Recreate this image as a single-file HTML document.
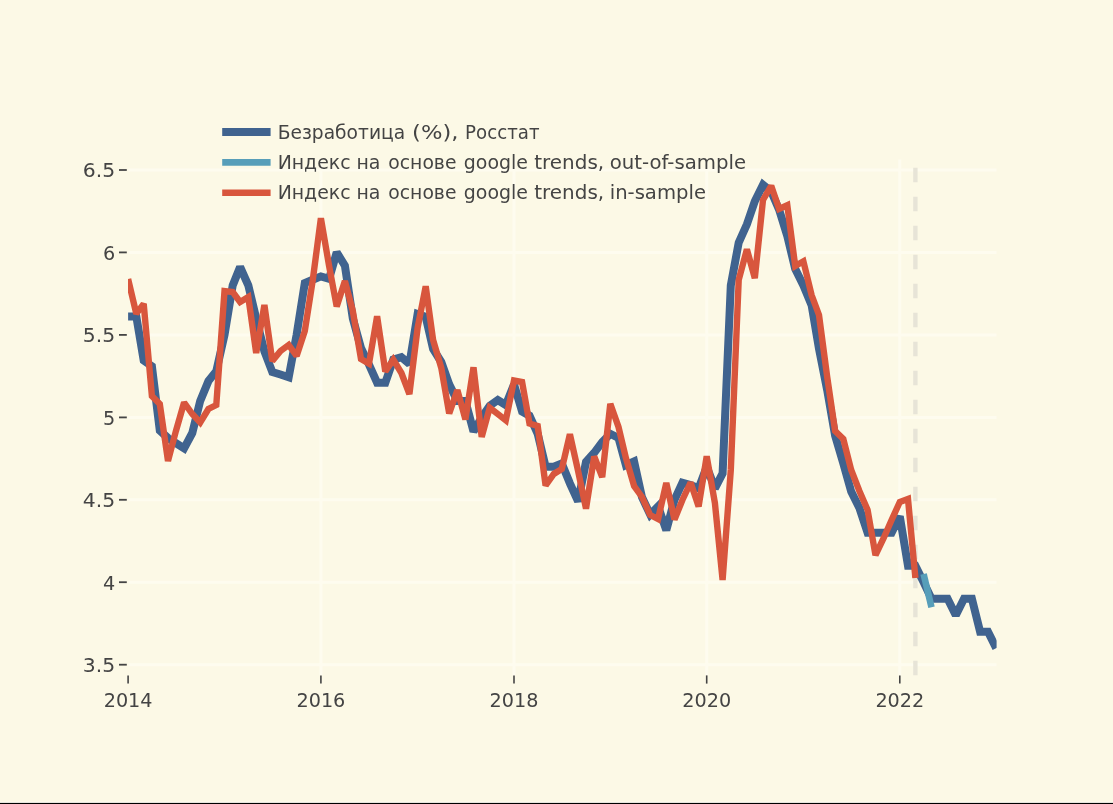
<!DOCTYPE html>
<html lang="ru"><head><meta charset="utf-8"><title>Безработица</title>
<style>html,body{margin:0;padding:0;background:#fcf9e6;overflow:hidden}svg{display:block}#chart{filter:blur(0.45px)}text{font-family:"DejaVu Sans","Liberation Sans",sans-serif;font-size:19.2px;fill:#444444}</style></head><body>
<svg width="1113" height="804" viewBox="0 0 1113 804">
<rect x="0" y="0" width="1113" height="804" fill="#fcf9e6"/>
<g id="chart">
<line x1="320.9" x2="320.9" y1="159.5" y2="675.3" stroke="#fefcef" stroke-width="3"/>
<line x1="514.0" x2="514.0" y1="159.5" y2="675.3" stroke="#fefcef" stroke-width="3"/>
<line x1="706.7" x2="706.7" y1="159.5" y2="675.3" stroke="#fefcef" stroke-width="3"/>
<line x1="899.8" x2="899.8" y1="159.5" y2="675.3" stroke="#fefcef" stroke-width="3"/>
<line x1="128.5" x2="996.5" y1="664.7" y2="664.7" stroke="#fefcef" stroke-width="3"/>
<line x1="128.5" x2="996.5" y1="582.2" y2="582.2" stroke="#fefcef" stroke-width="3"/>
<line x1="128.5" x2="996.5" y1="499.8" y2="499.8" stroke="#fefcef" stroke-width="3"/>
<line x1="128.5" x2="996.5" y1="417.4" y2="417.4" stroke="#fefcef" stroke-width="3"/>
<line x1="128.5" x2="996.5" y1="334.9" y2="334.9" stroke="#fefcef" stroke-width="3"/>
<line x1="128.5" x2="996.5" y1="252.4" y2="252.4" stroke="#fefcef" stroke-width="3"/>
<line x1="128.5" x2="996.5" y1="170.0" y2="170.0" stroke="#fefcef" stroke-width="3"/>
<line x1="915.4" x2="915.4" y1="675.3" y2="159.5" stroke="#e7e4d7" stroke-width="4.4" stroke-dasharray="14.5 14.5"/>
<line x1="119" x2="126.8" y1="664.7" y2="664.7" stroke="#444444" stroke-width="1.8"/>
<text x="115.2" y="671.9" text-anchor="end" textLength="32.4" lengthAdjust="spacingAndGlyphs">3.5</text>
<line x1="119" x2="126.8" y1="582.2" y2="582.2" stroke="#444444" stroke-width="1.8"/>
<text x="115.2" y="589.5" text-anchor="end">4</text>
<line x1="119" x2="126.8" y1="499.8" y2="499.8" stroke="#444444" stroke-width="1.8"/>
<text x="115.2" y="507.0" text-anchor="end" textLength="32.4" lengthAdjust="spacingAndGlyphs">4.5</text>
<line x1="119" x2="126.8" y1="417.4" y2="417.4" stroke="#444444" stroke-width="1.8"/>
<text x="115.2" y="424.6" text-anchor="end">5</text>
<line x1="119" x2="126.8" y1="334.9" y2="334.9" stroke="#444444" stroke-width="1.8"/>
<text x="115.2" y="342.1" text-anchor="end" textLength="32.4" lengthAdjust="spacingAndGlyphs">5.5</text>
<line x1="119" x2="126.8" y1="252.4" y2="252.4" stroke="#444444" stroke-width="1.8"/>
<text x="115.2" y="259.6" text-anchor="end">6</text>
<line x1="119" x2="126.8" y1="170.0" y2="170.0" stroke="#444444" stroke-width="1.8"/>
<text x="115.2" y="177.2" text-anchor="end" textLength="32.4" lengthAdjust="spacingAndGlyphs">6.5</text>
<line x1="128.1" x2="128.1" y1="675.4" y2="683.6" stroke="#444444" stroke-width="1.6"/>
<text x="128.1" y="706.6" text-anchor="middle">2014</text>
<line x1="320.9" x2="320.9" y1="675.4" y2="683.6" stroke="#444444" stroke-width="1.6"/>
<text x="320.9" y="706.6" text-anchor="middle">2016</text>
<line x1="514.0" x2="514.0" y1="675.4" y2="683.6" stroke="#444444" stroke-width="1.6"/>
<text x="514.0" y="706.6" text-anchor="middle">2018</text>
<line x1="706.7" x2="706.7" y1="675.4" y2="683.6" stroke="#444444" stroke-width="1.6"/>
<text x="706.7" y="706.6" text-anchor="middle">2020</text>
<line x1="899.8" x2="899.8" y1="675.4" y2="683.6" stroke="#444444" stroke-width="1.6"/>
<text x="899.8" y="706.6" text-anchor="middle">2022</text>
<defs><clipPath id="c"><rect x="128" y="159.5" width="868.6" height="515.8"/></clipPath></defs>
<g clip-path="url(#c)" fill="none" stroke-linejoin="miter" stroke-miterlimit="2">
<polyline stroke="#40638f" stroke-width="8" points="128.1,316.4 136.3,316.4 143.7,360.5 151.9,366.2 159.8,430.5 168.0,438.0 175.9,443.2 184.1,448.4 192.3,433.0 200.2,400.9 208.4,381.1 216.3,371.2 224.5,334.9 232.7,285.4 240.1,267.0 248.3,285.4 256.2,318.4 264.4,351.4 272.3,372.0 280.5,374.5 288.7,377.3 296.6,334.9 304.8,283.0 312.7,279.7 320.9,276.4 329.1,278.8 336.7,252.4 344.9,265.6 352.8,318.4 361.0,348.1 369.0,364.6 377.1,382.7 385.3,382.7 393.3,359.6 401.4,357.2 409.4,363.8 417.6,314.0 425.7,316.8 433.1,348.9 441.3,362.1 449.2,384.4 457.4,400.9 465.4,400.9 473.5,431.4 481.7,417.4 489.7,405.8 497.8,400.0 505.8,405.0 514.0,384.4 522.1,411.6 529.5,415.7 537.7,433.8 545.6,466.8 553.8,466.8 561.8,463.5 569.9,483.3 578.1,501.4 586.0,461.9 594.2,452.8 602.2,442.1 610.3,433.8 618.5,438.0 625.9,465.2 634.1,461.4 642.0,497.3 650.2,514.6 658.1,506.4 666.3,530.3 674.5,499.8 682.4,482.8 690.6,485.0 698.6,488.3 706.7,466.8 714.9,488.3 722.6,473.4 730.8,285.4 738.7,242.6 746.9,224.4 754.8,201.3 763.0,184.8 771.2,191.4 779.1,209.6 787.3,236.0 795.2,268.9 803.4,285.4 811.6,305.2 819.0,348.9 827.2,390.1 835.1,435.5 843.3,463.5 851.2,491.6 859.4,508.0 867.6,532.8 875.5,532.8 883.7,532.8 891.6,532.8 899.8,516.3 908.0,565.8 915.4,565.8 923.6,582.2 931.5,598.7 939.7,598.7 947.6,598.7 955.8,615.2 964.0,598.7 971.9,598.7 980.1,631.7 988.0,631.7 996.2,648.2"/>
<polyline stroke="#579eb9" stroke-width="6.6" points="923.6,574.0 931.5,607.3"/>
<polyline stroke="#d8563d" stroke-width="6.4" points="128.1,279.0 136.3,313.7 143.7,303.8 151.9,396.0 159.8,404.0 168.0,461.0 175.9,431.0 184.1,402.5 192.3,414.0 200.2,422.5 208.4,409.0 216.3,405.0 224.5,291.0 232.7,292.0 240.1,302.0 248.3,297.0 256.2,353.0 264.4,305.0 272.3,361.0 280.5,351.0 288.7,345.0 296.6,356.0 304.8,331.0 312.7,280.5 320.9,218.2 329.1,266.0 336.7,306.5 344.9,281.0 352.8,311.0 361.0,359.0 369.0,363.7 377.1,316.3 385.3,371.5 393.3,359.7 401.4,373.0 409.4,394.0 417.6,328.0 425.7,286.3 433.1,340.0 441.3,368.0 449.2,413.5 457.4,390.0 465.4,419.5 473.5,367.3 481.7,437.0 489.7,407.7 497.8,414.0 505.8,420.3 514.0,380.5 522.1,382.0 529.5,423.5 537.7,426.0 545.6,485.5 553.8,474.0 561.8,469.0 569.9,434.2 578.1,471.0 586.0,508.7 594.2,456.5 602.2,477.2 610.3,403.8 618.5,427.0 625.9,458.0 634.1,486.0 642.0,497.0 650.2,515.0 658.1,519.0 666.3,483.0 674.5,519.5 682.4,500.0 690.6,482.5 698.6,506.5 706.7,456.3 714.9,503.0 722.6,580.0 730.8,470.0 738.7,280.0 746.9,249.3 754.8,278.2 763.0,200.0 771.2,185.8 779.1,209.0 787.3,205.3 795.2,266.0 803.4,261.3 811.6,295.0 819.0,315.0 827.2,377.0 835.1,431.0 843.3,439.0 851.2,470.0 859.4,491.0 867.6,510.0 875.5,555.2 883.7,538.0 891.6,520.0 899.8,502.0 908.0,499.0 915.4,578.0"/>
</g>
<line x1="222.2" x2="270.6" y1="132.0" y2="132.0" stroke="#40638f" stroke-width="8"/>
<text y="138.6"><tspan x="277.66" textLength="127.47" lengthAdjust="spacingAndGlyphs">Безработица</tspan> <tspan x="412.14" textLength="46.39" lengthAdjust="spacingAndGlyphs">(%),</tspan> <tspan x="465.11" textLength="74.40" lengthAdjust="spacingAndGlyphs">Росстат</tspan></text>
<line x1="222.2" x2="270.6" y1="162.4" y2="162.4" stroke="#579eb9" stroke-width="6.6"/>
<text y="169.0"><tspan x="277.63" textLength="72.96" lengthAdjust="spacingAndGlyphs">Индекс</tspan> <tspan x="356.43" textLength="23.97" lengthAdjust="spacingAndGlyphs">на</tspan> <tspan x="388.32" textLength="68.15" lengthAdjust="spacingAndGlyphs">основе</tspan> <tspan x="463.81" textLength="64.16" lengthAdjust="spacingAndGlyphs">google</tspan> <tspan x="534.26" textLength="69.86" lengthAdjust="spacingAndGlyphs">trends,</tspan> <tspan x="609.67" textLength="136.49" lengthAdjust="spacingAndGlyphs">out-of-sample</tspan></text>
<line x1="222.2" x2="270.6" y1="192.8" y2="192.8" stroke="#d8563d" stroke-width="6.4"/>
<text y="199.4"><tspan x="277.63" textLength="72.96" lengthAdjust="spacingAndGlyphs">Индекс</tspan> <tspan x="356.43" textLength="23.97" lengthAdjust="spacingAndGlyphs">на</tspan> <tspan x="388.32" textLength="68.15" lengthAdjust="spacingAndGlyphs">основе</tspan> <tspan x="463.81" textLength="64.16" lengthAdjust="spacingAndGlyphs">google</tspan> <tspan x="534.26" textLength="69.86" lengthAdjust="spacingAndGlyphs">trends,</tspan> <tspan x="609.70" textLength="96.31" lengthAdjust="spacingAndGlyphs">in-sample</tspan></text>
</g>
<rect x="0" y="801.8" width="1113" height="1.1" fill="#fffef8"/>
<rect x="0" y="802.9" width="1113" height="1.1" fill="#000"/>
</svg></body></html>
